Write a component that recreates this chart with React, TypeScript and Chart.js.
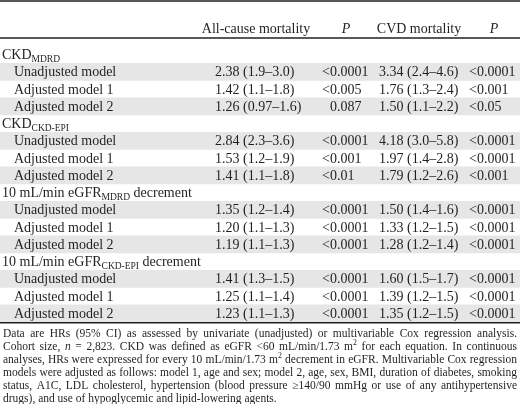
import React, { useEffect, useRef } from "react";
import { Chart, registerables } from "chart.js";

Chart.register(...registerables);

// ---------- data ----------
const groupNames = ["CKD", "CKD", "10 mL/min eGFR", "10 mL/min eGFR"];
const groupSubs = ["MDRD", "CKD-EPI", "MDRD", "CKD-EPI"];
const groupTails = ["", "", " decrement", " decrement"];
const modelNames = ["Unadjusted model", "Adjusted model 1", "Adjusted model 2"];
const headerLabels = ["All-cause mortality", "P", "CVD mortality", "P"];

const allCauseHR = [
  "2.38 (1.9–3.0)", "1.42 (1.1–1.8)", "1.26 (0.97–1.6)",
  "2.84 (2.3–3.6)", "1.53 (1.2–1.9)", "1.41 (1.1–1.8)",
  "1.35 (1.2–1.4)", "1.20 (1.1–1.3)", "1.19 (1.1–1.3)",
  "1.41 (1.3–1.5)", "1.25 (1.1–1.4)", "1.23 (1.1–1.3)",
];
const allCauseP = [
  "<0.0001", "<0.005", "0.087",
  "<0.0001", "<0.001", "<0.01",
  "<0.0001", "<0.0001", "<0.0001",
  "<0.0001", "<0.0001", "<0.0001",
];
const cvdHR = [
  "3.34 (2.4–4.6)", "1.76 (1.3–2.4)", "1.50 (1.1–2.2)",
  "4.18 (3.0–5.8)", "1.97 (1.4–2.8)", "1.79 (1.2–2.6)",
  "1.50 (1.4–1.6)", "1.33 (1.2–1.5)", "1.28 (1.2–1.4)",
  "1.60 (1.5–1.7)", "1.39 (1.2–1.5)", "1.35 (1.2–1.5)",
];
const cvdP = [
  "<0.0001", "<0.001", "<0.05",
  "<0.0001", "<0.0001", "<0.001",
  "<0.0001", "<0.0001", "<0.0001",
  "<0.0001", "<0.0001", "<0.0001",
];
const shadedModels = [true, false, true];

const footnoteLines = [
  "Data are HRs (95% CI) as assessed by univariate (unadjusted) or multivariable Cox regression analysis.",
  "Cohort size, *n* = 2,823. CKD was defined as eGFR <60 mL/min/1.73 m^2 for each equation. In continuous",
  "analyses, HRs were expressed for every 10 mL/min/1.73 m^2 decrement in eGFR. Multivariable Cox regression",
  "models were adjusted as follows: model 1, age and sex; model 2, age, sex, BMI, duration of diabetes, smoking",
  "status, A1C, LDL cholesterol, hypertension (blood pressure ≥140/90 mmHg or use of any antihypertensive",
  "drugs), and use of hypoglycemic and lipid-lowering agents.",
];

// ---------- layout / style ----------
const W = 520;
const H = 404;
const FONT = '"Liberation Serif", "Times New Roman", serif';
const INK = "#231f20";
const BAND = "#e6e6e6";
const FS = 14;
const SUB_FS = 9.5;
const COL = { group: 2, model: 14, hr1: 215, p1dot: 337, hr2: 379, p2: 469 };
const HEAD = { hr1: 256, p1: 346, hr2: 419, p2: 494 };
const TABLE_TOP = 46;
const TABLE_BOTTOM = 322;
const FOOT_X = 3;
const FOOT_W = 514;
const FOOT_FS = 11.5;
const FOOT_BASE = 337;
const FOOT_LH = 13;

type Row = { group: number; model: number };
const rows: Row[] = [];
groupNames.forEach((_, g) => {
  rows.push({ group: g, model: -1 });
  modelNames.forEach((__, m) => rows.push({ group: g, model: m }));
});
const rowLabels = rows.map((r) =>
  r.model < 0 ? groupNames[r.group] + groupSubs[r.group] + groupTails[r.group] : modelNames[r.model]
);
const bandData = rows.map((r) => (r.model >= 0 && shadedModels[r.model] ? [0, 1] : null));

// ---------- drawing helpers ----------
type Seg = { t: string; italic?: boolean; sup?: boolean };

function parseWord(w: string): Seg[] {
  const segs: Seg[] = [];
  const re = /\*([^*]+)\*|\^(\d)|([^*^]+)/g;
  let m: RegExpExecArray | null;
  while ((m = re.exec(w))) {
    if (m[1]) segs.push({ t: m[1], italic: true });
    else if (m[2]) segs.push({ t: m[2], sup: true });
    else if (m[3]) segs.push({ t: m[3] });
  }
  return segs;
}

function segFont(s: Seg, size: number) {
  const sz = s.sup ? size * 0.68 : size;
  return `${s.italic ? "italic " : ""}${sz}px ${FONT}`;
}

function wordWidth(ctx: CanvasRenderingContext2D, segs: Seg[], size: number) {
  let w = 0;
  for (const s of segs) {
    ctx.font = segFont(s, size);
    w += ctx.measureText(s.t).width;
  }
  return w;
}

function drawWord(ctx: CanvasRenderingContext2D, segs: Seg[], x: number, y: number, size: number) {
  let cx = x;
  for (const s of segs) {
    ctx.font = segFont(s, size);
    ctx.fillText(s.t, cx, s.sup ? y - size * 0.4 : y);
    cx += ctx.measureText(s.t).width;
  }
  return cx - x;
}

function drawRule(ctx: CanvasRenderingContext2D, y: number, lw: number) {
  ctx.beginPath();
  ctx.lineWidth = lw;
  ctx.moveTo(0, y);
  ctx.lineTo(W, y);
  ctx.stroke();
}

const tablePlugin = {
  id: "tableText",
  afterDatasetsDraw(chart: any) {
    const { ctx, chartArea, scales } = chart;
    const ys = scales.y;
    ctx.save();
    ctx.fillStyle = INK;
    ctx.strokeStyle = INK;
    ctx.textBaseline = "alphabetic";

    // rules
    drawRule(ctx, 1, 1.6);
    drawRule(ctx, 38, 1.4);
    drawRule(ctx, chartArea.bottom + 0.8, 1.4);

    // header
    const hb = 33;
    ctx.textAlign = "center";
    ctx.font = `${FS}px ${FONT}`;
    ctx.fillText(headerLabels[0], HEAD.hr1, hb);
    ctx.fillText(headerLabels[2], HEAD.hr2, hb);
    ctx.font = `italic ${FS}px ${FONT}`;
    ctx.fillText(headerLabels[1], HEAD.p1, hb);
    ctx.fillText(headerLabels[3], HEAD.p2, hb);

    // rows
    ctx.textAlign = "left";
    rows.forEach((r, i) => {
      const cy = ys.getPixelForValue(i);
      const base = cy + 4.5;
      ctx.font = `${FS}px ${FONT}`;
      if (r.model < 0) {
        let x = COL.group;
        ctx.fillText(groupNames[r.group], x, base);
        x += ctx.measureText(groupNames[r.group]).width;
        ctx.font = `${SUB_FS}px ${FONT}`;
        ctx.fillText(groupSubs[r.group], x, base + 2.5);
        x += ctx.measureText(groupSubs[r.group]).width;
        ctx.font = `${FS}px ${FONT}`;
        ctx.fillText(groupTails[r.group], x, base);
      } else {
        const k = r.group * 3 + r.model;
        ctx.fillText(modelNames[r.model], COL.model, base);
        ctx.fillText(allCauseHR[k], COL.hr1, base);
        const p = allCauseP[k];
        const pre = p.slice(0, p.indexOf("."));
        ctx.fillText(p, COL.p1dot - ctx.measureText(pre).width, base);
        ctx.fillText(cvdHR[k], COL.hr2, base);
        ctx.fillText(cvdP[k], COL.p2, base);
      }
    });

    // footnote (justified)
    footnoteLines.forEach((line, li) => {
      const words = line.split(" ").map(parseWord);
      const widths = words.map((w) => wordWidth(ctx, w, FOOT_FS));
      const sum = widths.reduce((a, b) => a + b, 0);
      ctx.font = `${FOOT_FS}px ${FONT}`;
      const sp = ctx.measureText(" ").width;
      const natural = sum + sp * (words.length - 1);
      const last = li === footnoteLines.length - 1;
      const y = FOOT_BASE + li * FOOT_LH;
      ctx.save();
      let gap = sp;
      if (natural > FOOT_W) {
        const sx = FOOT_W / natural;
        ctx.translate(FOOT_X, 0);
        ctx.scale(sx, 1);
        ctx.translate(-FOOT_X, 0);
      } else if (!last) {
        gap = (FOOT_W - sum) / (words.length - 1);
      }
      let x = FOOT_X;
      words.forEach((w, wi) => {
        drawWord(ctx, w, x, y, FOOT_FS);
        x += widths[wi] + gap;
      });
      ctx.restore();
    });

    ctx.restore();
  },
};

export default function App() {
  const ref = useRef<HTMLCanvasElement | null>(null);

  useEffect(() => {
    document.body.style.margin = "0";
    document.body.style.background = "#ffffff";
    const canvas = ref.current;
    if (!canvas) return;
    const chart = new Chart(canvas, {
      type: "bar",
      data: {
        labels: rowLabels,
        datasets: [
          {
            data: bandData as any,
            backgroundColor: BAND,
            borderWidth: 0,
            barPercentage: 1,
            categoryPercentage: 1,
          },
        ],
      },
      options: {
        indexAxis: "y",
        responsive: false,
        maintainAspectRatio: false,
        animation: false,
        layout: { padding: { top: TABLE_TOP, bottom: H - TABLE_BOTTOM, left: 0, right: 0 } },
        scales: {
          x: { display: false, min: 0, max: 1 },
          y: { display: false, offset: true, grid: { display: false } },
        },
        plugins: {
          legend: { display: false },
          tooltip: { enabled: false },
          title: { display: false },
        },
      },
      plugins: [tablePlugin],
    });
    return () => chart.destroy();
  }, []);

  return (
    <div style={{ position: "absolute", left: 0, top: 0, width: W, height: H, background: "#fff" }}>
      <canvas ref={ref} width={W} height={H} style={{ width: W, height: H, display: "block" }} />
    </div>
  );
}
